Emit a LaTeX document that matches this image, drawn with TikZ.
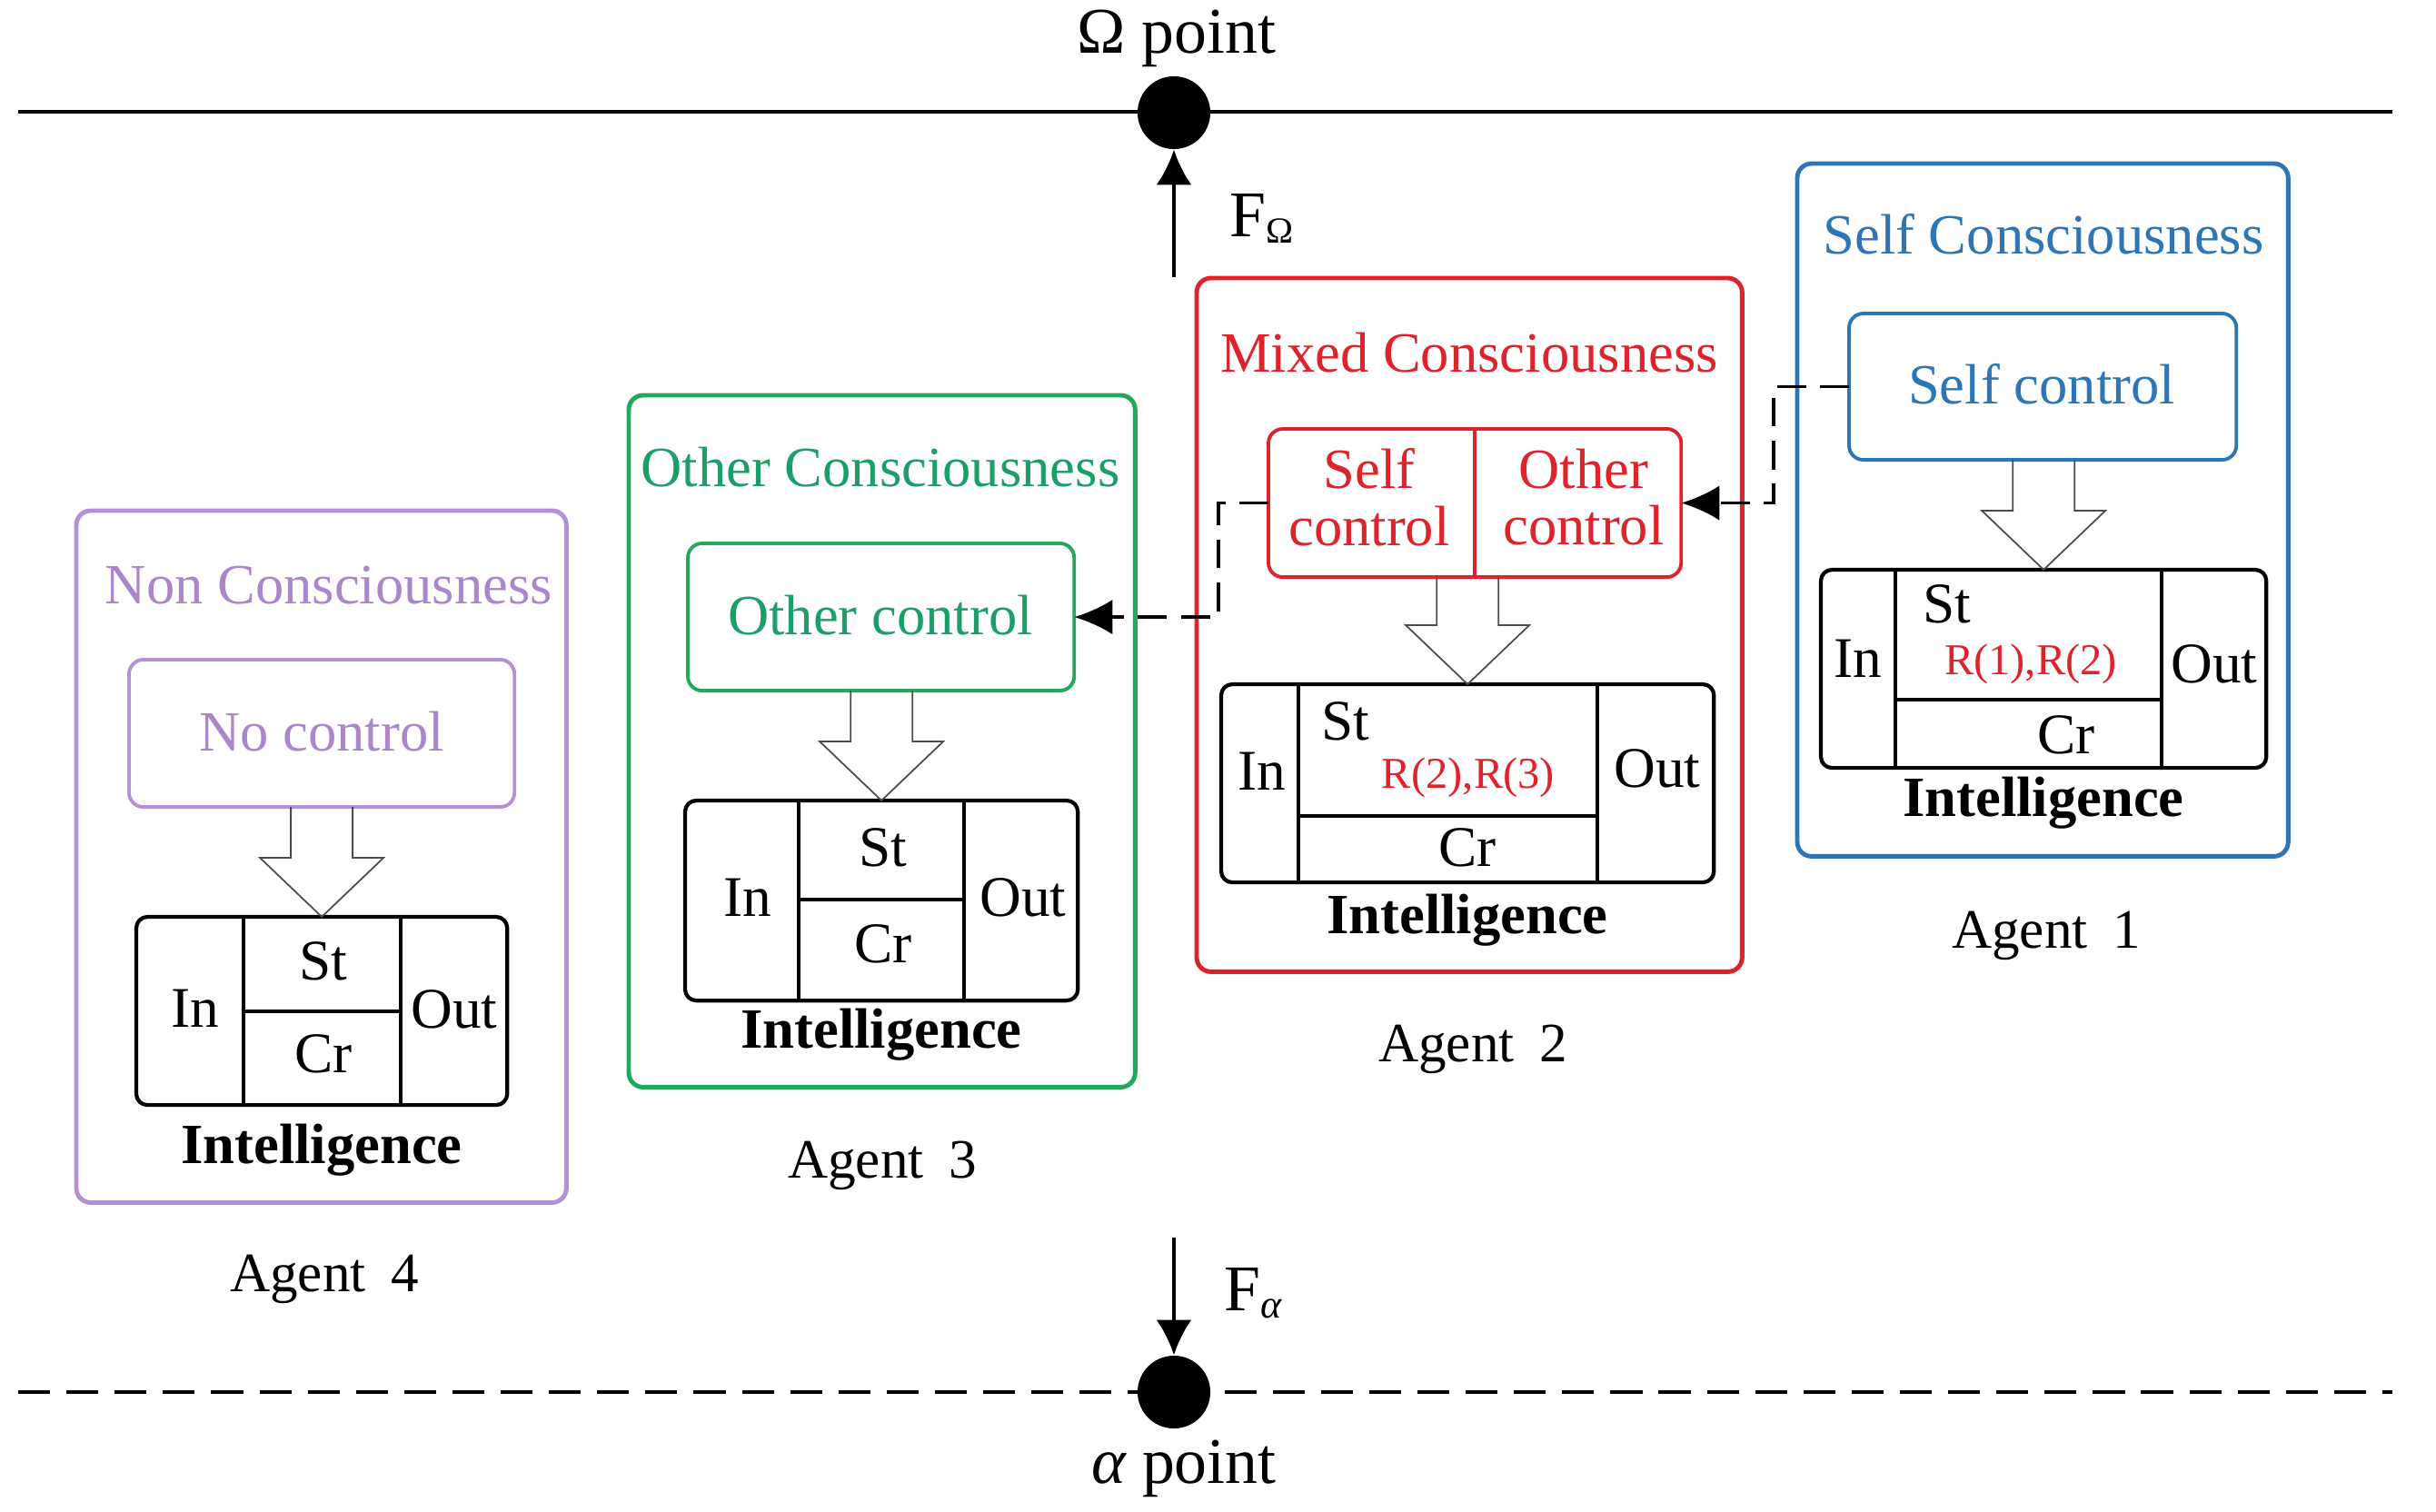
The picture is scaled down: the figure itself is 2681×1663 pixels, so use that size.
\documentclass[tikz,border=0pt]{standalone}
\usepackage{fontspec}
\setmainfont{Liberation Serif}
\usetikzlibrary{calc,arrows.meta}
\definecolor{cblue}{RGB}{46,117,182}
\definecolor{cred}{RGB}{224,34,42}
\definecolor{cgreen}{RGB}{32,168,92}
\definecolor{cgreentext}{RGB}{28,158,104}
\definecolor{cpurple}{RGB}{180,145,215}
\definecolor{cpurpletext}{RGB}{170,135,205}
\newcommand{\hollowarr}[2]{%
  \draw[hollowarrow] ($(#2.north |- #1.south)+(-34,0)$) -- ($(#2.north)+(-34,-65)$)
    -- ($(#2.north)+(-68,-65)$) -- (#2.north) -- ($(#2.north)+(68,-65)$)
    -- ($(#2.north)+(34,-65)$) -- ($(#2.north |- #1.south)+(34,0)$);}
\begin{document}
\begin{tikzpicture}[x=0.01cm,y=-0.01cm,
  outerbox/.style={draw,line width=1.4pt,rounded corners=4.5pt,anchor=north west,inner sep=0pt,outer sep=0pt},
  ctrlbox/.style={draw,line width=1.1pt,rounded corners=4.5pt,anchor=north west,inner sep=0pt,outer sep=0pt},
  intbox/.style={draw=black,line width=1.2pt,rounded corners=3.5pt,anchor=north west,inner sep=0pt,outer sep=0pt},
  divline/.style={draw=black,line width=1.2pt},
  hollowarrow/.style={draw=black!70,line width=0.5pt,line join=miter},
  txt/.style={inner sep=0pt,font=\fontsize{17.8}{17.8}\selectfont},
  celltxt/.style={inner sep=0pt,font=\fontsize{18}{18}\selectfont},
  rtxt/.style={inner sep=0pt,text=cred,font=\fontsize{13.8}{13.8}\selectfont},
  inttxt/.style={inner sep=0pt,anchor=base,font=\fontsize{17.8}{17.8}\selectfont\bfseries},
  agenttxt/.style={inner sep=0pt,anchor=base,font=\fontsize{17.4}{17.4}\selectfont},
  bigtxt/.style={inner sep=0pt,font=\fontsize{20.4}{20.4}\selectfont},
  dashconn/.style={draw=black,line width=1.1pt,dash pattern=on 9pt off 4.5pt,-{Latex[length=12pt,width=11pt]}},
  dotnode/.style={circle,fill=black,minimum size=0.8cm,inner sep=0pt},
  force/.style={draw=black,line width=0.9pt,-{Latex[length=11pt,width=11pt]}}
]
\useasboundingbox (0,0) rectangle (2681,1663);

% --- Omega and alpha lines ---
\coordinate (tl) at (20,123);
\coordinate (tr) at (2633,123);
\coordinate (bl) at (20,1532);
\coordinate (br) at (2633,1532);
\draw[line width=1.15pt] (tl) -- (tr);
\draw[line width=1.15pt,dash pattern=on 10pt off 5.1pt] (bl) -- (br);
\node[dotnode] (om) at (1292,124) {};
\node[dotnode] (al) at (1292,1532) {};
\node[bigtxt,anchor=base] (omt) at (1295,58) {Ω point};
\node[bigtxt,anchor=base] (alt) at (1303,1632) {{\itshape α} point};
\coordinate (fos) at (1292,305);
\coordinate (fas) at (1292,1362);
\draw[force] (fos) -- (om.south);
\draw[force] (fas) -- (al.north);
\node[bigtxt,anchor=base west] (fot) at (1353,260) {F\raisebox{-2pt}{\fontsize{11.5}{11.5}\selectfont Ω}};
\node[bigtxt,anchor=base west] (fat) at (1347,1442) {F\raisebox{-2.3pt}{\fontsize{12.5}{12.5}\selectfont\itshape α}};

% --- Agent 1: Self Consciousness ---
\node[outerbox,draw=cblue,minimum width=5.40cm,minimum height=7.62cm] (a1) at (1978,180) {};
\node[txt,text=cblue] (t1) at (2249,258) {Self Consciousness};
\node[ctrlbox,draw=cblue,minimum width=4.26cm,minimum height=1.61cm] (c1) at (2035,345) {};
\node[txt,text=cblue] (c1t) at (2247,423) {Self control};
\node[intbox,minimum width=4.90cm,minimum height=2.18cm] (i1) at (2004,627) {};
\draw[divline] (2086,627) -- (2086,845);
\draw[divline] (2379,627) -- (2379,845);
\draw[divline] (2086,770) -- (2379,770);
\node[celltxt] (i1in) at (2045,725) {In};
\node[celltxt] (i1out) at (2437,731) {Out};
\node[celltxt] (i1st) at (2143,665) {St};
\node[rtxt] (i1r) at (2235,731) {R(1),R(2)};
\node[celltxt] (i1cr) at (2274,809) {Cr};
\node[inttxt] (i1l) at (2249,898) {Intelligence};
\node[agenttxt] (ag1) at (2252,1043) {Agent\hspace{0.45em}1};
\hollowarr{c1}{i1}

% --- Agent 2: Mixed Consciousness ---
\node[outerbox,draw=cred,minimum width=6.00cm,minimum height=7.63cm] (a2) at (1317,306) {};
\node[txt,text=cred] (t2) at (1617,388) {Mixed Consciousness};
\node[ctrlbox,draw=cred,minimum width=4.54cm,minimum height=1.63cm] (c2) at (1396,472) {};
\draw[draw=cred,line width=1.1pt] (1623,472) -- (1623,635);
\node[txt,text=cred,align=center] (c2s) at (1507,547) {Self\\control};
\node[txt,text=cred,align=center] (c2o) at (1743,547) {Other\\control};
\node[intbox,minimum width=5.42cm,minimum height=2.18cm] (i2) at (1344,753) {};
\draw[divline] (1429,753) -- (1429,971);
\draw[divline] (1758,753) -- (1758,971);
\draw[divline] (1429,898) -- (1758,898);
\node[celltxt] (i2in) at (1389,849) {In};
\node[celltxt] (i2out) at (1824,846) {Out};
\node[celltxt] (i2st) at (1481,794) {St};
\node[rtxt] (i2r) at (1616,856) {R(2),R(3)};
\node[celltxt] (i2cr) at (1615,933) {Cr};
\node[inttxt] (i2l) at (1615,1027) {Intelligence};
\node[agenttxt] (ag2) at (1621,1168) {Agent\hspace{0.45em}2};
\hollowarr{c2}{i2}

% --- Agent 3: Other Consciousness ---
\node[outerbox,draw=cgreen,minimum width=5.57cm,minimum height=7.61cm] (a3) at (692,435) {};
\node[txt,text=cgreentext] (t3) at (969,514) {Other Consciousness};
\node[ctrlbox,draw=cgreen,minimum width=4.25cm,minimum height=1.62cm] (c3) at (757,598) {};
\node[txt,text=cgreentext] (c3t) at (969,677) {Other control};
\node[intbox,minimum width=4.32cm,minimum height=2.20cm] (i3) at (754,881) {};
\draw[divline] (879,881) -- (879,1101);
\draw[divline] (1061,881) -- (1061,1101);
\draw[divline] (879,990) -- (1061,990);
\node[celltxt] (i3in) at (823,988) {In};
\node[celltxt] (i3out) at (1126,988) {Out};
\node[celltxt] (i3st) at (972,933) {St};
\node[celltxt] (i3cr) at (972,1039) {Cr};
\node[inttxt] (i3l) at (970,1153) {Intelligence};
\node[agenttxt] (ag3) at (971,1296) {Agent\hspace{0.45em}3};
\hollowarr{c3}{i3}

% --- Agent 4: Non Consciousness ---
\node[outerbox,draw=cpurple,minimum width=5.39cm,minimum height=7.61cm] (a4) at (84,562) {};
\node[txt,text=cpurpletext] (t4) at (362,644) {Non Consciousness};
\node[ctrlbox,draw=cpurple,minimum width=4.24cm,minimum height=1.62cm] (c4) at (142,726) {};
\node[txt,text=cpurpletext] (c4t) at (354,805) {No control};
\node[intbox,minimum width=4.08cm,minimum height=2.07cm] (i4) at (150,1009) {};
\draw[divline] (268,1009) -- (268,1216);
\draw[divline] (441,1009) -- (441,1216);
\draw[divline] (268,1113) -- (441,1113);
\node[celltxt] (i4in) at (215,1110) {In};
\node[celltxt] (i4out) at (500,1111) {Out};
\node[celltxt] (i4st) at (356,1058) {St};
\node[celltxt] (i4cr) at (356,1160) {Cr};
\node[inttxt] (i4l) at (354,1280) {Intelligence};
\node[agenttxt] (ag4) at (357,1421) {Agent\hspace{0.45em}4};
\hollowarr{c4}{i4}

% --- dashed influence connectors ---
\draw[dashconn] (c1.west) -- ++(-83,0) |- (c2.east);
\draw[dashconn] (c2.west) -- ++(-55,0) |- (c3.east);
\end{tikzpicture}
\end{document}
